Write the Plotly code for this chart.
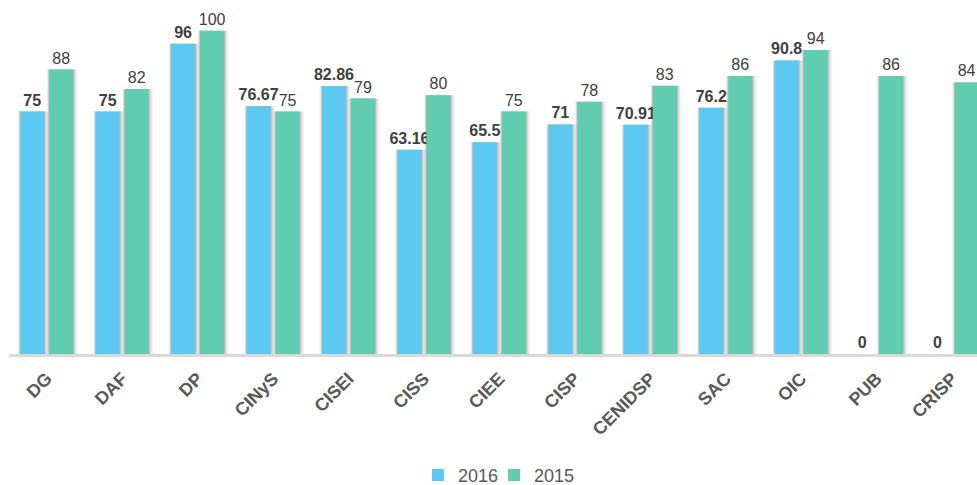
import plotly.graph_objects as go

categories = ["DG", "DAF", "DP", "CINyS", "CISEI", "CISS", "CIEE", "CISP",
              "CENIDSP", "SAC", "OIC", "PUB", "CRISP"]
values_2016 = [75, 75, 96, 76.67, 82.86, 63.16, 65.5, 71, 70.91, 76.2, 90.8, 0, 0]
values_2015 = [88, 82, 100, 75, 79, 80, 75, 78, 83, 86, 94, 86, 84]
labels_2016 = ["75", "75", "96", "76.67", "82.86", "63.16", "65.5", "71",
               "70.91", "76.2", "90.8", "0", "0"]
labels_2015 = ["88", "82", "100", "75", "79", "80", "75", "78", "83", "86",
               "94", "86", "84"]

PX = 75.45  # pixels per category
BW = 24 / PX
OFF16 = -26.5 / PX
OFF15 = 2.5 / PX

narrow = "Liberation Sans Narrow, Liberation Sans, Arial, sans-serif"

fig = go.Figure()

# soft shadows behind bars
for vals, off in ((values_2016, OFF16), (values_2015, OFF15)):
    for grow, op in ((7, 0.06), (5, 0.08), (3, 0.12), (1.5, 0.18)):
        fig.add_trace(go.Bar(
            x=categories, y=vals,
            offset=off - (grow * 0.35) / PX, width=BW + grow / PX,
            marker=dict(color=f"rgba(80,80,80,{op})", line=dict(width=0)),
            showlegend=False, hoverinfo="skip",
        ))

fig.add_trace(go.Bar(
    name="2016", x=categories, y=values_2016,
    offset=OFF16, width=BW,
    marker=dict(color="#5BC9F1", line=dict(width=0)),
    text=["<b>" + t + "</b>" for t in labels_2016], textposition="outside",
    textfont=dict(family=narrow, size=16, color="#404040"),
    cliponaxis=False, constraintext="none", legend="legend",
))
fig.add_trace(go.Bar(
    name="2015", x=categories, y=values_2015,
    offset=OFF15, width=BW,
    marker=dict(color="#5FCDAE", line=dict(width=0)),
    text=labels_2015, textposition="outside",
    textfont=dict(family=narrow, size=16, color="#404040"),
    cliponaxis=False, constraintext="none", legend="legend2",
))

leg_common = dict(orientation="h", xanchor="left", xref="container",
                  y=0.02, yref="container", yanchor="middle",
                  font=dict(family=narrow, size=18, color="#595959"),
                  itemwidth=30, bgcolor="rgba(0,0,0,0)")

fig.update_layout(
    width=977, height=485,
    barmode="overlay",
    margin=dict(l=9, r=0, t=0, b=131, autoexpand=False),
    plot_bgcolor="white", paper_bgcolor="white",
    showlegend=True,
    legend=dict(x=418 / 977, **leg_common),
    legend2=dict(x=494 / 977, **leg_common),
    xaxis=dict(
        range=[-0.5, 12.33], showgrid=False, showline=True,
        linecolor="#d9d9d9", linewidth=3, ticks="", tickangle=-45,
        ticklabelstandoff=4,
        tickfont=dict(family="Liberation Sans, Arial, sans-serif", size=18,
                      color="#595959", weight="bold"),
        fixedrange=True,
    ),
    yaxis=dict(range=[0, 109.5], visible=False, showgrid=False, zeroline=False,
               fixedrange=True),
)

fig.write_html("out.html", config={"displayModeBar": False},
               post_script="document.body.style.margin='0';document.body.style.overflow='hidden';")
